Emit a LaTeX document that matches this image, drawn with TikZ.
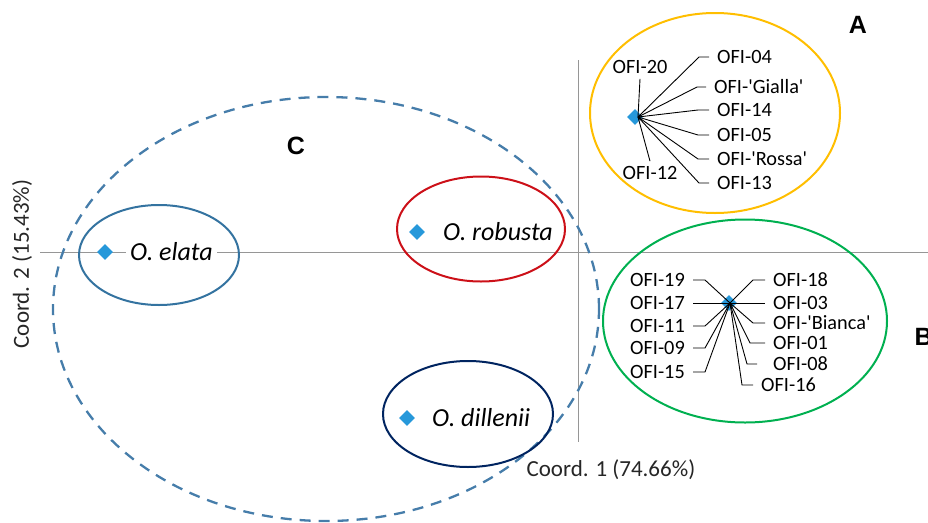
\documentclass[tikz,border=0pt]{standalone}
\usepackage{fontspec}
\setmainfont{Carlito}
\newfontfamily\arialb{Liberation Sans}
\usetikzlibrary{shapes.geometric}
\definecolor{ptblue}{RGB}{38,152,218}
\definecolor{axgray}{RGB}{150,150,150}
\definecolor{cyel}{RGB}{255,190,0}
\definecolor{cgreen}{RGB}{0,176,80}
\definecolor{cred}{RGB}{204,16,24}
\definecolor{cnavy}{RGB}{0,36,96}
\definecolor{celata}{RGB}{52,115,160}
\definecolor{cdash}{RGB}{70,125,170}
\tikzset{
  pt/.style={shape=diamond, fill=ptblue, draw=none, minimum size=16pt, inner sep=0pt},
  ring/.style={shape=ellipse, draw, line width=2pt, inner sep=0pt},
  ofiR/.style={anchor=west, inner xsep=8pt, inner ysep=3pt, font=\fontsize{20.3}{24}\selectfont},
  ofiL/.style={anchor=east, inner xsep=8pt, inner ysep=3pt, font=\fontsize{20.3}{24}\selectfont},
  ofiC/.style={inner xsep=3pt, inner ysep=5pt, font=\fontsize{20.3}{24}\selectfont},
  lead/.style={draw=black, line width=0.9pt},
  species/.style={anchor=west, fill=white, inner xsep=4pt, inner ysep=2pt, font=\fontsize{26}{30}\selectfont\itshape},
  grp/.style={font=\fontsize{25}{30}\selectfont\arialb\bfseries},
  axlab/.style={font=\fontsize{23}{27}\selectfont, text=black!85},
  axis/.style={draw=axgray, line width=1pt}
}
\begin{document}
\begin{tikzpicture}[x=1pt,y=-1pt]
\useasboundingbox (0,0) rectangle (928,522);
% axes
\coordinate (hx0) at (40,252);
\coordinate (hx1) at (930,252);
\coordinate (vy0) at (578,60);
\coordinate (vy1) at (578,442);
\draw[axis] (hx0) -- (hx1);
\draw[axis] (vy0) -- (vy1);
\node[axlab, anchor=west] (c1) at (523,470) {Coord. 1 (74.66\%)};
\node[axlab, rotate=90] (c2) at (22,264) {Coord. 2 (15.43\%)};
% dashed group C
\node[shape=ellipse, draw=cdash, line width=2.3pt, dash pattern=on 11pt off 8pt, minimum width=546pt, minimum height=424pt, inner sep=0pt] (eC) at (326,309) {};
\node[grp] (gC) at (296,146) {C};
% species
\node[ring, draw=celata, minimum width=160pt, minimum height=100pt] (eEl) at (159,255) {};
\node[pt] (dEl) at (105,252) {};
\node[species] (tEl) at (126,252) {O. elata};
\node[ring, draw=cred, minimum width=168pt, minimum height=105pt] (eRo) at (481,229) {};
\node[pt] (dRo) at (417,232) {};
\node[species, fill=none] (tRo) at (439,232) {O. robusta};
\node[ring, draw=cnavy, minimum width=170pt, minimum height=106pt] (eDi) at (468,414) {};
\node[pt] (dDi) at (407,418) {};
\node[species, fill=none] (tDi) at (428,418) {O. dillenii};
% group A
\node[ring, draw=cyel, minimum width=250pt, minimum height=200pt] (eA) at (715,113) {};
\node[grp] (gA) at (858,25) {A};
\node[pt] (dA) at (635,117) {};
\coordinate (pA) at (638,117);
\node[ofiR] (l04) at (709,57) {OFI-04};
\node[ofiR] (lGi) at (706,87) {OFI-\textquotesingle Gialla\textquotesingle};
\node[ofiR] (l14) at (709,110) {OFI-14};
\node[ofiR] (l05) at (709,135) {OFI-05};
\node[ofiR] (lRo) at (709,159) {OFI-\textquotesingle Rossa\textquotesingle};
\node[ofiR] (l13) at (709,183) {OFI-13};
\node[ofiC] (l20) at (640,67) {OFI-20};
\node[ofiC] (l12) at (650,173) {OFI-12};
\draw[lead] (pA) -- ([xshift=-10pt]l04.west) -- (l04.west);
\draw[lead] (pA) -- ([xshift=-9pt]lGi.west) -- (lGi.west);
\draw[lead] (pA) -- ([xshift=-11pt]l14.west) -- (l14.west);
\draw[lead] (pA) -- ([xshift=-11pt]l05.west) -- (l05.west);
\draw[lead] (pA) -- ([xshift=-11pt]lRo.west) -- (lRo.west);
\draw[lead] (pA) -- ([xshift=-10pt]l13.west) -- (l13.west);
\draw[lead] (pA) -- (l20.south);
\draw[lead] (pA) -- (l12.north);
% group B
\node[ring, draw=cgreen, minimum width=284pt, minimum height=203pt] (eB) at (745,321) {};
\node[grp, anchor=west] (gB) at (911,337) {B};
\node[pt] (dB) at (729,303) {};
\coordinate (pB) at (730,303);
\node[ofiL] (l19) at (693,280) {OFI-19};
\node[ofiL] (l17) at (693,303) {OFI-17};
\node[ofiL] (l11) at (693,326) {OFI-11};
\node[ofiL] (l09) at (693,348) {OFI-09};
\node[ofiL] (l15) at (693,372) {OFI-15};
\node[ofiR] (l18) at (765,280) {OFI-18};
\node[ofiR] (l03) at (765,303) {OFI-03};
\node[ofiR] (lBi) at (765,323) {OFI-\textquotesingle Bianca\textquotesingle};
\node[ofiR] (l01) at (765,343) {OFI-01};
\node[ofiR] (l08) at (765,364) {OFI-08};
\node[ofiR] (l16) at (753,385) {OFI-16};
\draw[lead] (pB) -- ([xshift=12pt]l19.east) -- (l19.east);
\draw[lead] (pB) -- (l17.east);
\draw[lead] (pB) -- ([xshift=12pt]l11.east) -- (l11.east);
\draw[lead] (pB) -- ([xshift=12pt]l09.east) -- (l09.east);
\draw[lead] (pB) -- ([xshift=12pt]l15.east) -- (l15.east);
\draw[lead] (pB) -- ([xshift=-12pt]l18.west) -- (l18.west);
\draw[lead] (pB) -- (l03.west);
\draw[lead] (pB) -- ([xshift=-12pt]lBi.west) -- (lBi.west);
\draw[lead] (pB) -- ([xshift=-15pt]l01.west) -- (l01.west);
\draw[lead] (pB) -- ([xshift=-18pt]l08.west) -- ([xshift=-8pt]l08.west);
\draw[lead] (pB) -- ([xshift=-11pt]l16.west) -- (l16.west);
\end{tikzpicture}
\end{document}
